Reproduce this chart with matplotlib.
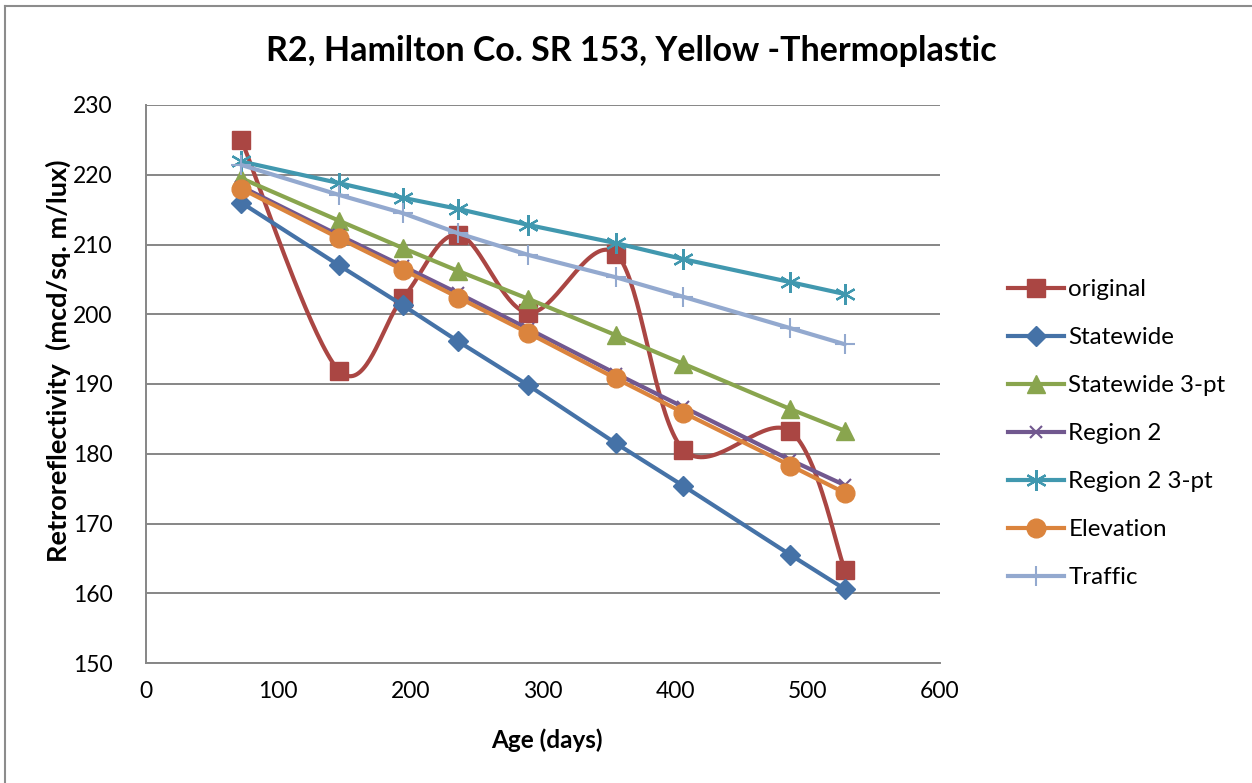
import numpy as np
import matplotlib
matplotlib.use("Agg")
import matplotlib.pyplot as plt
from matplotlib.lines import Line2D

# Age of the marking at each reading (days)
age_days = [72, 146, 194, 236, 289, 355, 406, 487, 528]

# Retroreflectivity (mcd/sq. m/lux) measured and predicted by each model
original = [225.0, 191.9, 202.3, 211.4, 200.2, 208.7, 180.6, 183.2, 163.4]
statewide = [216.0, 207.0, 201.3, 196.1, 189.8, 181.5, 175.4, 165.5, 160.6]
statewide_3pt = [219.5, 213.4, 209.5, 206.2, 202.2, 197.0, 192.9, 186.4, 183.3]
region2 = [218.3, 211.3, 206.9, 203.0, 197.9, 191.5, 186.7, 179.1, 175.5]
region2_3pt = [221.9, 218.8, 216.7, 215.1, 212.8, 210.2, 207.9, 204.6, 202.9]
elevation = [218.0, 210.9, 206.4, 202.4, 197.3, 190.8, 185.9, 178.3, 174.4]
traffic = [221.4, 217.1, 214.5, 211.6, 208.5, 205.3, 202.5, 198.0, 195.7]

series_names = ["original", "Statewide", "Statewide 3-pt", "Region 2",
                "Region 2 3-pt", "Elevation", "Traffic"]

x_ticks = [0, 100, 200, 300, 400, 500, 600]
y_ticks = [150, 160, 170, 180, 190, 200, 210, 220, 230]

title_text = "R2, Hamilton Co. SR 153, Yellow -Thermoplastic"
x_label = "Age (days)"
y_label = "Retroreflectivity  (mcd/sq. m/lux)"


def smooth_curve(xs, ys, steps=40):
    """Cardinal-spline smoothing through the points (cubic Bezier segments)."""
    pts = np.column_stack([xs, ys]).astype(float)
    n = len(pts)
    out = [pts[0]]
    t = np.linspace(0, 1, steps)[1:, None]
    for i in range(n - 1):
        p0 = pts[i - 1] if i > 0 else pts[i]
        p1 = pts[i]
        p2 = pts[i + 1]
        p3 = pts[i + 2] if i + 2 < n else pts[i + 1]
        c1 = p1 + (p2 - p0) / 6.0
        c2 = p2 - (p3 - p1) / 6.0
        seg = ((1 - t) ** 3) * p1 + 3 * ((1 - t) ** 2) * t * c1 \
            + 3 * (1 - t) * t ** 2 * c2 + t ** 3 * p2
        out.extend(seg)
    out = np.array(out)
    return out[:, 0], out[:, 1]


plt.rcParams["font.family"] = ["Lato", "DejaVu Sans"]

W, H = 1252, 783
fig = plt.figure(figsize=(W / 100, H / 100), dpi=100)
fig.patch.set_facecolor("white")

ax = fig.add_axes([146 / W, 1 - 663 / H, (940 - 146) / W, (663 - 105) / H])
ax.set_xlim(0, 600)
ax.set_ylim(150, 230)
ax.set_xticks(x_ticks)
ax.set_yticks(y_ticks)

grid_col = "#868686"
ax.grid(axis="y", color=grid_col, linewidth=1.4, zorder=0)
ax.set_axisbelow(True)
for side in ("top", "right"):
    ax.spines[side].set_visible(False)
for side in ("left", "bottom"):
    ax.spines[side].set_color(grid_col)
    ax.spines[side].set_linewidth(1.4)
ax.tick_params(axis="both", length=0, labelsize=16.5, colors="black")
ax.tick_params(axis="y", pad=24)
ax.tick_params(axis="x", pad=13)

lw = 3.0

# measured readings, drawn as a smoothed curve
sx, sy = smooth_curve(age_days, original)
ax.plot(sx, sy, color="#AA4643", lw=lw, solid_capstyle="round", zorder=2)
ax.plot(age_days, original, ls="none", marker="s", ms=12.5,
        color="#AA4643", zorder=2)

style = [
    (statewide, "#4572A7", dict(marker="D", ms=10.5)),
    (statewide_3pt, "#89A54E", dict(marker="^", ms=13)),
    (region2, "#71588F", dict(marker="x", ms=9, mew=1.5)),
    (region2_3pt, "#4198AF", dict(marker=(6, 2, 0), ms=15, mew=1.6)),
    (elevation, "#DB843D", dict(marker="o", ms=13.5)),
    (traffic, "#93A9CF", dict(marker="+", ms=14, mew=1.5)),
]
for z, (vals, col, mk) in enumerate(style):
    ax.plot(age_days, vals, color=col, lw=lw, solid_capstyle="round",
            zorder=3 + z, **mk)

fig.text(631 / W, 1 - 51 / H, title_text, ha="center", va="center",
         fontsize=24.5, fontweight="bold")
fig.text(547 / W, 1 - 740 / H, x_label, ha="center", va="center",
         fontsize=17.5, fontweight="bold")
fig.text(58 / W, 1 - 361 / H, y_label, ha="center", va="center",
         rotation=90, fontsize=19.5, fontweight="bold")

# legend
handles = [
    Line2D([], [], color="#AA4643", lw=lw, marker="s", ms=12.5),
    Line2D([], [], color="#4572A7", lw=lw, marker="D", ms=10.5),
    Line2D([], [], color="#89A54E", lw=lw, marker="^", ms=13),
    Line2D([], [], color="#71588F", lw=lw, marker="x", ms=9, mew=1.5),
    Line2D([], [], color="#4198AF", lw=lw, marker=(6, 2, 0), ms=15, mew=1.6),
    Line2D([], [], color="#DB843D", lw=lw, marker="o", ms=13.5),
    Line2D([], [], color="#93A9CF", lw=lw, marker="+", ms=14, mew=1.5),
]
fig.legend(handles, series_names, loc="upper left",
           bbox_to_anchor=(1008 / W, 1 - 279 / H), frameon=False,
           fontsize=17.4, handlelength=2.3, handletextpad=0.2,
           labelspacing=1.12, borderpad=0, borderaxespad=0)

# chart area border (top and left edges)
fig.add_artist(Line2D([5 / W, 5 / W], [0, 1 - 6 / H], transform=fig.transFigure,
                      color="#8c8c8c", lw=1.5))
fig.add_artist(Line2D([5 / W, 1], [1 - 6 / H, 1 - 6 / H], transform=fig.transFigure,
                      color="#8c8c8c", lw=1.5))

fig.savefig("out.png", dpi=100, facecolor="white")
